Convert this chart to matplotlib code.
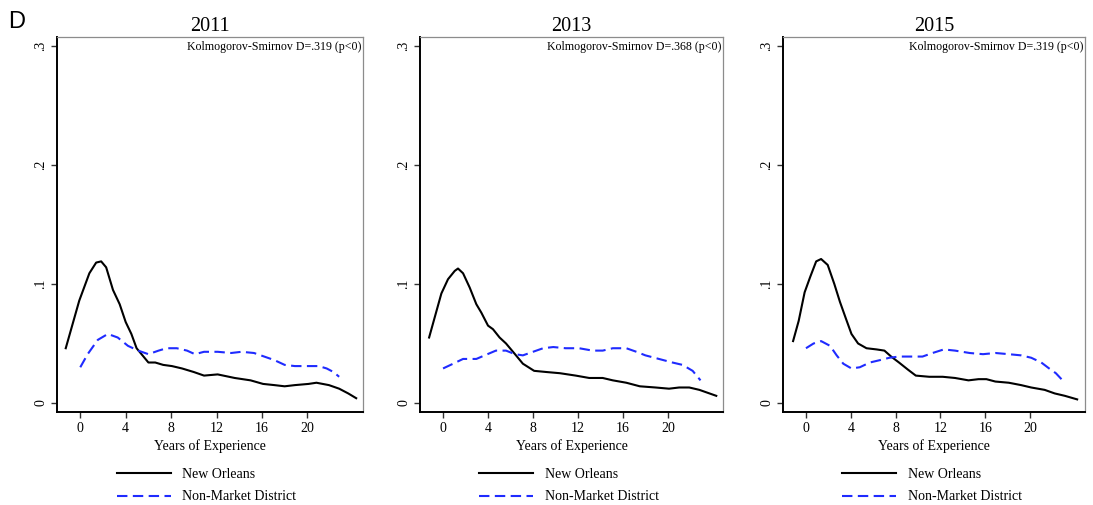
import numpy as np
import matplotlib
matplotlib.use("Agg")
import matplotlib.pyplot as plt

# values (years of experience, density)
years = ["2011", "2013", "2015"]
ks_labels = ["Kolmogorov-Smirnov D=.319 (p<0)",
             "Kolmogorov-Smirnov D=.368 (p<0)",
             "Kolmogorov-Smirnov D=.319 (p<0)"]

no_x_2011 = [-1.28, -0.09, 0.8, 1.4, 1.84, 2.28, 2.88, 3.47, 4.0, 4.5, 4.96, 6.0, 6.6, 7.3, 8.07,
             8.96, 10.0, 10.9, 12.1, 13.6, 15.0, 16.1, 17.1, 18.0, 18.9, 20.1, 20.8, 21.9, 22.8, 23.6, 24.3]
no_y_2011 = [0.046, 0.086, 0.109, 0.118, 0.119, 0.114, 0.095, 0.083, 0.068, 0.058, 0.046, 0.034, 0.034,
             0.032, 0.031, 0.029, 0.026, 0.023, 0.024, 0.021, 0.019, 0.016, 0.015, 0.014, 0.015, 0.016,
             0.017, 0.015, 0.012, 0.008, 0.004]
nm_x_2011 = [0.0, 0.65, 1.54, 2.43, 3.3, 4.2, 5.1, 6.0, 6.9, 7.6, 8.5, 9.4, 10.1, 10.9, 12.1, 13.3,
             14.2, 15.3, 16.2, 17.1, 18.0, 18.9, 19.8, 21.0, 21.7, 22.3, 22.8]
nm_y_2011 = [0.030, 0.041, 0.053, 0.058, 0.055, 0.048, 0.044, 0.041, 0.044, 0.046, 0.046, 0.044, 0.041,
             0.043, 0.043, 0.042, 0.043, 0.042, 0.039, 0.036, 0.032, 0.031, 0.031, 0.031, 0.029, 0.026, 0.022]

no_x_2013 = [-1.24, -0.74, -0.15, 0.44, 1.04, 1.33, 1.78, 2.37, 2.96, 3.4, 4.0, 4.44, 5.03, 5.6, 6.4,
             7.1, 8.1, 9.2, 10.4, 11.8, 13.0, 14.2, 15.1, 16.3, 17.5, 18.9, 20.1, 21.0, 21.9, 22.8, 24.3]
no_y_2013 = [0.055, 0.072, 0.092, 0.104, 0.111, 0.113, 0.109, 0.097, 0.083, 0.076, 0.065, 0.062, 0.055,
             0.050, 0.041, 0.033, 0.027, 0.026, 0.025, 0.023, 0.021, 0.021, 0.019, 0.017, 0.014, 0.013,
             0.012, 0.013, 0.013, 0.011, 0.006]
nm_x_2013 = [0.0, 0.9, 1.78, 2.37, 2.96, 3.7, 4.7, 5.6, 6.4, 7.1, 8.0, 8.9, 9.8, 10.9, 12.1, 13.3,
             14.2, 15.1, 16.3, 17.2, 18.0, 19.2, 20.4, 21.3, 22.2, 22.9]
nm_y_2013 = [0.029, 0.033, 0.037, 0.037, 0.037, 0.040, 0.044, 0.044, 0.041, 0.040, 0.043, 0.046, 0.047,
             0.046, 0.046, 0.044, 0.044, 0.046, 0.046, 0.043, 0.040, 0.037, 0.034, 0.032, 0.027, 0.019]

no_x_2015 = [-1.15, -0.65, -0.12, 0.38, 0.91, 1.35, 1.94, 2.53, 3.03, 3.56, 4.06, 4.65, 5.4, 6.3, 7.0,
             7.6, 8.3, 9.1, 9.8, 11.0, 12.2, 13.3, 14.5, 15.4, 16.1, 16.9, 18.1, 19.2, 20.1, 21.3, 22.2,
             23.1, 24.2]
no_y_2015 = [0.052, 0.069, 0.093, 0.106, 0.119, 0.121, 0.116, 0.100, 0.085, 0.071, 0.058, 0.050, 0.046,
             0.045, 0.044, 0.039, 0.034, 0.028, 0.023, 0.022, 0.022, 0.021, 0.019, 0.020, 0.020, 0.018,
             0.017, 0.015, 0.013, 0.011, 0.008, 0.006, 0.003]
nm_x_2015 = [0.0, 0.68, 1.35, 2.15, 2.74, 3.33, 4.06, 4.8, 5.7, 6.6, 7.45, 8.3, 9.5, 10.4, 11.3, 12.3,
             13.3, 14.6, 15.8, 16.9, 18.1, 19.2, 20.1, 21.0, 21.7, 22.3, 23.0]
nm_y_2015 = [0.046, 0.050, 0.052, 0.048, 0.040, 0.033, 0.029, 0.030, 0.034, 0.036, 0.038, 0.039, 0.039,
             0.039, 0.042, 0.045, 0.044, 0.042, 0.041, 0.042, 0.041, 0.040, 0.038, 0.034, 0.029, 0.025, 0.018]

no_series = [(no_x_2011, no_y_2011), (no_x_2013, no_y_2013), (no_x_2015, no_y_2015)]
nm_series = [(nm_x_2011, nm_y_2011), (nm_x_2013, nm_y_2013), (nm_x_2015, nm_y_2015)]

x_ticks = [0, 4, 8, 12, 16, 20]
y_ticks = [0, 0.1, 0.2, 0.3]
y_tick_labels = ["0", ".1", ".2", ".3"]

serif = ["Liberation Serif", "DejaVu Serif"]
W, H = 1093, 505
fig = plt.figure(figsize=(W / 100, H / 100), dpi=100)

# axes boxes in pixels: (left, right)
boxes = [(57, 363), (420, 723), (783, 1085)]
top_px, bot_px = 37, 412

for i, (l, r) in enumerate(boxes):
    ax = fig.add_axes([l / W, 1 - bot_px / H, (r - l) / W, (bot_px - top_px) / H])
    ax.plot(*no_series[i], color="black", lw=1.5, label="New Orleans")
    ax.plot(*nm_series[i], color="#1f2bff", lw=1.5, dashes=(5, 2.6), label="Non-Market District")
    ax.set_xlim(-2.05, 24.9)
    ax.set_ylim(-0.0076, 0.3076)
    ax.set_xticks(x_ticks)
    ax.set_yticks(y_ticks)
    ax.set_yticklabels(y_tick_labels, rotation=90, va="center")
    for lab in ax.get_xticklabels() + ax.get_yticklabels():
        lab.set_family(serif)
        lab.set_fontsize(10)
    ax.tick_params(direction="out", length=4, width=1, color="#333333", pad=3)
    ax.spines["left"].set_linewidth(1.4)
    ax.spines["bottom"].set_linewidth(1.4)
    for s in ("top", "right"):
        ax.spines[s].set_color("#8c8c8c")
        ax.spines[s].set_linewidth(0.9)
    ax.set_xlabel("Years of Experience", family=serif, fontsize=10, labelpad=3)
    ax.set_title(years[i], family=serif, fontsize=14.5, pad=4)
    ax.text(0.995, 0.99, ks_labels[i], transform=ax.transAxes, ha="right", va="top",
            family=serif, fontsize=8.6)
    ax.legend(loc="upper left", bbox_to_anchor=(0.1765, -0.135), frameon=False,
              prop={"family": serif, "size": 10}, handlelength=3.9, handletextpad=0.84,
              labelspacing=0.67, borderaxespad=0)

fig.text(8 / W, 1 - 22 / H, "D", family=["Liberation Sans", "DejaVu Sans"], fontsize=17,
         va="center", ha="left")

fig.savefig("out.png", dpi=100)
